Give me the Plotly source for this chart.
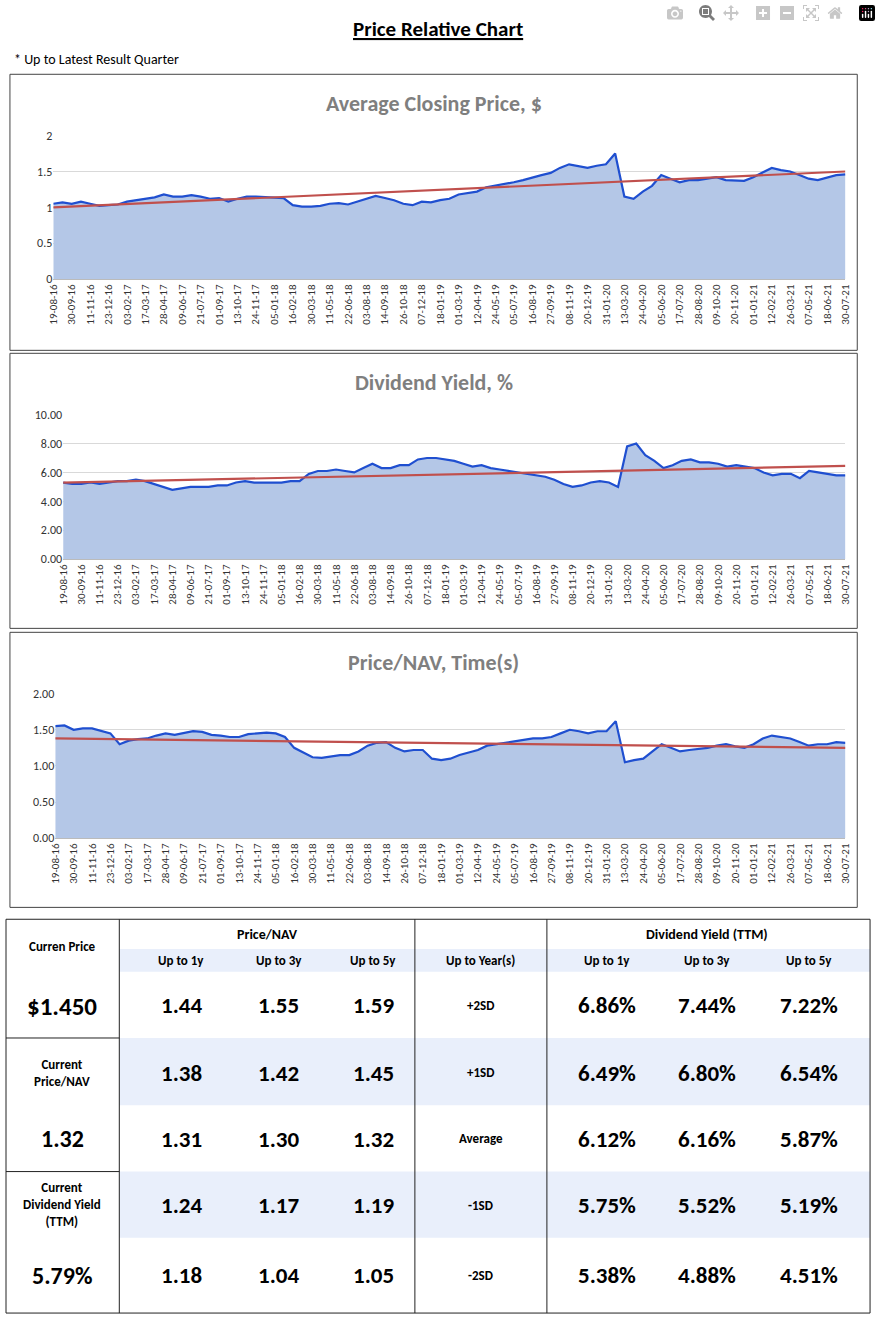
import pandas as pd
import plotly.graph_objects as go

W, H = 881, 1325

# weekly samples every 3 weeks, 19-08-16 .. 30-07-21
dates = pd.date_range("2016-08-19", periods=87, freq="21D")

price = [1.05,1.07,1.05,1.08,1.05,1.02,1.03,1.04,1.08,1.10,
         1.12,1.14,1.18,1.15,1.15,1.17,1.15,1.12,1.13,1.08,
         1.12,1.15,1.15,1.14,1.14,1.13,1.03,1.01,1.01,1.02,
         1.05,1.06,1.04,1.08,1.12,1.16,1.13,1.10,1.05,1.03,
         1.08,1.07,1.10,1.12,1.18,1.20,1.22,1.28,1.30,1.33,
         1.35,1.38,1.42,1.45,1.48,1.55,1.60,1.58,1.55,1.58,
         1.60,1.75,1.15,1.12,1.22,1.30,1.45,1.40,1.35,1.38,
         1.38,1.40,1.42,1.38,1.38,1.37,1.42,1.48,1.55,1.52,
         1.50,1.45,1.40,1.38,1.42,1.45,1.46]
div_yield = [5.3,5.2,5.2,5.3,5.2,5.3,5.4,5.4,5.5,5.4,
             5.2,5.0,4.8,4.9,5.0,5.0,5.0,5.1,5.1,5.3,
             5.4,5.3,5.3,5.3,5.3,5.4,5.4,5.9,6.1,6.1,
             6.2,6.1,6.0,6.3,6.6,6.3,6.3,6.5,6.5,6.9,
             7.0,7.0,6.9,6.8,6.6,6.4,6.5,6.3,6.2,6.1,
             6.0,5.9,5.8,5.7,5.5,5.2,5.0,5.1,5.3,5.4,
             5.3,5.0,7.8,8.0,7.2,6.8,6.3,6.5,6.8,6.9,
             6.7,6.7,6.6,6.4,6.5,6.4,6.3,6.0,5.8,5.9,
             5.9,5.6,6.1,6.0,5.9,5.8,5.8]
pnav = [1.55,1.56,1.50,1.52,1.52,1.48,1.45,1.30,1.35,1.37,
        1.38,1.42,1.45,1.43,1.45,1.48,1.47,1.43,1.42,1.40,
        1.40,1.44,1.45,1.46,1.45,1.40,1.25,1.18,1.12,1.11,
        1.13,1.15,1.15,1.20,1.28,1.32,1.33,1.25,1.20,1.22,
        1.22,1.10,1.08,1.10,1.15,1.18,1.22,1.28,1.30,1.32,
        1.35,1.36,1.38,1.38,1.40,1.45,1.50,1.48,1.45,1.48,
        1.48,1.62,1.05,1.08,1.10,1.20,1.30,1.25,1.20,1.22,
        1.23,1.25,1.28,1.30,1.27,1.25,1.30,1.38,1.42,1.40,
        1.38,1.33,1.28,1.30,1.30,1.33,1.32]

# trend line end points
price_trend = [1.00, 1.50]
yield_trend = [5.30, 6.45]
pnav_trend = [1.38, 1.25]

chart_titles = ["Average Closing Price, $", "Dividend Yield, %", "Price/NAV, Time(s)"]

# table
current_price = "$1.450"
current_pnav = "1.32"
current_yield = "5.79%"
row_labels = ["+2SD", "+1SD", "Average", "-1SD", "-2SD"]
pnav_1y = ["1.44", "1.38", "1.31", "1.24", "1.18"]
pnav_3y = ["1.55", "1.42", "1.30", "1.17", "1.04"]
pnav_5y = ["1.59", "1.45", "1.32", "1.19", "1.05"]
dy_1y = ["6.86%", "6.49%", "6.12%", "5.75%", "5.38%"]
dy_3y = ["7.44%", "6.80%", "6.16%", "5.52%", "4.88%"]
dy_5y = ["7.22%", "6.54%", "5.87%", "5.19%", "4.51%"]

FONT = "Calibri, Carlito, Open Sans, sans-serif"
LINE = "#1f4fd0"
FILL = "#b4c7e7"
TREND = "#c0504d"


def py(p):
    return 1 - p / H


def px(p):
    return p / W


fig = go.Figure()
shapes, annots = [], []

charts = [
    (price, price_trend, [0, 2], 0.5, None, 68, 347, 130, 275, 48),
    (div_yield, yield_trend, [0, 10], 2, ".2f", 350, 628, 412, 558, 58),
    (pnav, pnav_trend, [0, 2], 0.5, ".2f", 632, 910, 694, 840, 50),
]
tickv = list(dates[::2])
tickt = [d.strftime("%d-%m-%y") for d in tickv]

for i, (vals, trend, rng, dt, fmt, b0, b1, p0, p1, left) in enumerate(charts):
    n = "" if i == 0 else str(i + 1)
    fig.add_trace(go.Scatter(x=dates, y=vals, mode="lines", fill="tozeroy",
                             fillcolor=FILL, line=dict(color=LINE, width=2.2),
                             xaxis="x" + n, yaxis="y" + n, showlegend=False))
    fig.add_trace(go.Scatter(x=[dates[0], dates[-1]], y=trend, mode="lines",
                             line=dict(color=TREND, width=2.2),
                             xaxis="x" + n, yaxis="y" + n, showlegend=False))
    fig.layout["xaxis" + n] = dict(domain=[px(left), px(852)], anchor="y" + n,
                                  range=[dates[0], dates[-1]], tickvals=tickv, ticktext=tickt,
                                  tickangle=-90, tickfont=dict(size=11, color="#333"),
                                  showgrid=False, showline=True, linecolor="#bbb", ticks="")
    fig.layout["yaxis" + n] = dict(domain=[py(p1), py(p0)], anchor="x" + n, range=rng,
                                  dtick=dt, tickformat=fmt, gridcolor="#d9d9d9",
                                  tickfont=dict(size=12, color="#333"), zeroline=False)
    shapes.append(dict(type="rect", xref="paper", yref="paper", x0=px(4), x1=px(864),
                       y0=py(b1), y1=py(b0), line=dict(color="#444", width=1)))
    annots.append(dict(text="<b>%s</b>" % chart_titles[i], x=px(434), y=py(b0 + 30),
                       xref="paper", yref="paper", showarrow=False, yanchor="middle",
                       font=dict(size=22, color="#7f7f7f")))

annots.append(dict(text="<b><u>Price Relative Chart</u></b>", x=px(438), y=py(22), xref="paper",
                   yref="paper", showarrow=False, yanchor="middle",
                   font=dict(size=21, color="black")))
annots.append(dict(text="* Up to Latest Result Quarter", x=px(6), y=py(53), xref="paper",
                   yref="paper", xanchor="left", yanchor="middle", showarrow=False,
                   font=dict(size=14, color="black")))

BLUE = "#e9effb"


def rect(x0, x1, y0, y1, fill=None, line=None):
    shapes.append(dict(type="rect", xref="paper", yref="paper", x0=px(x0), x1=px(x1),
                       y0=py(y1), y1=py(y0), fillcolor=fill,
                       line=dict(width=1 if line else 0, color=line or "rgba(0,0,0,0)"),
                       layer="below"))


def text(t, x, y, size, anchor="center"):
    annots.append(dict(text=t, x=px(x), y=py(y), xref="paper", yref="paper", showarrow=False,
                       xanchor=anchor, yanchor="middle", font=dict(size=size, color="black")))


rect(115, 877, 952, 975, fill=BLUE)
rect(115, 877, 1042, 1110, fill=BLUE)
rect(115, 877, 1177, 1244, fill=BLUE)
rect(0, 877, 922, 1320, line="#222")
for xv in [115, 415, 549]:
    shapes.append(dict(type="line", xref="paper", yref="paper", x0=px(xv), x1=px(xv),
                       y0=py(922), y1=py(1320), line=dict(color="#222", width=1)))
for yv in [1042, 1177]:
    shapes.append(dict(type="line", xref="paper", yref="paper", x0=0, x1=px(115),
                       y0=py(yv), y1=py(yv), line=dict(color="#222", width=1)))

text("<b>Curren Price</b>", 57, 950, 13)
text("<b>Price/NAV</b>", 265, 937, 14)
text("<b>Dividend Yield (TTM)</b>", 712, 937, 14)
for lab, xc in zip(["Up to 1y", "Up to 3y", "Up to 5y"], [178, 277, 373]):
    text("<b>%s</b>" % lab, xc, 964, 13)
for lab, xc in zip(["Up to 1y", "Up to 3y", "Up to 5y"], [610, 712, 815]):
    text("<b>%s</b>" % lab, xc, 964, 13)
text("<b>Up to Year(s)</b>", 482, 964, 13)

text("<b>%s</b>" % current_price, 57, 1010, 25)
text("<b>Current<br>Price/NAV</b>", 57, 1077, 13)
text("<b>%s</b>" % current_pnav, 57, 1144, 24)
text("<b>Current<br>Dividend Yield<br>(TTM)</b>", 57, 1210, 13)
text("<b>%s</b>" % current_yield, 57, 1282, 24)

row_y = [1009, 1077, 1144, 1211, 1282]
for r in range(5):
    y = row_y[r]
    text("<b>%s</b>" % row_labels[r], 482, y, 13)
    for col, xc in zip([pnav_1y, pnav_3y, pnav_5y], [178, 277, 373]):
        text("<b>%s</b>" % col[r], xc, y, 23)
    for col, xc in zip([dy_1y, dy_3y, dy_5y], [610, 712, 815]):
        text("<b>%s</b>" % col[r], xc, y, 23)

fig.update_layout(width=W, height=H, margin=dict(l=0, r=0, t=0, b=0),
                  paper_bgcolor="white", plot_bgcolor="white",
                  font=dict(family=FONT), shapes=shapes, annotations=annots)
fig.write_html("out.html",
               post_script="document.body.style.margin='0';document.body.style.overflow='hidden';")
